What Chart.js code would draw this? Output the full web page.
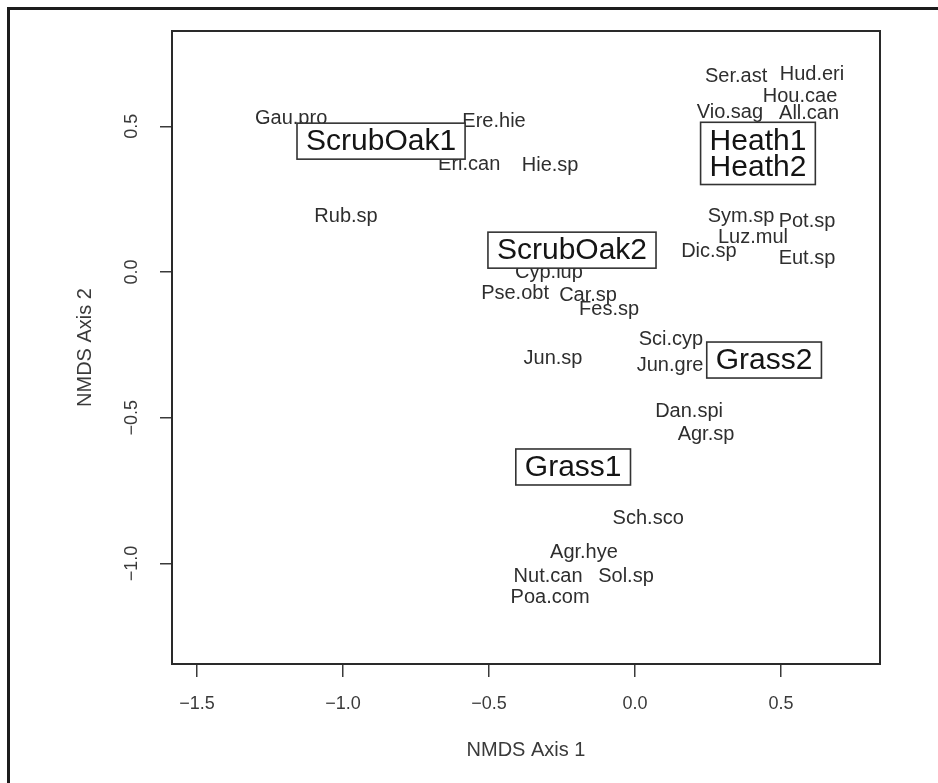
<!DOCTYPE html>
<html>
<head>
<meta charset="utf-8">
<script src="https://cdn.jsdelivr.net/npm/chart.js@4/dist/chart.umd.min.js"></script>
<style>
html,body{margin:0;padding:0;background:#fff;}
#wrap{width:938px;height:783px;position:relative;}
</style>
</head>
<body>
<div id="wrap"><canvas id="c"></canvas></div>
<script>
// Species scores (NMDS axis 1 / axis 2)
const speciesNames = ['Ser.ast','Hud.eri','Hou.cae','Vio.sag','All.can','Gau.pro','Ere.hie','Eri.can','Hie.sp','Rub.sp',
  'Sym.sp','Pot.sp','Luz.mul','Dic.sp','Eut.sp','Cyp.lup','Pse.obt','Car.sp','Fes.sp','Sci.cyp',
  'Jun.sp','Jun.gre','Dan.spi','Agr.sp','Sch.sco','Agr.hye','Nut.can','Sol.sp','Poa.com'];
const speciesX = [0.346,0.606,0.565,0.325,0.596,-1.178,-0.483,-0.568,-0.291,-0.990,
  0.363,0.589,0.404,0.253,0.589,-0.295,-0.411,-0.161,-0.089,0.123,
  -0.281,0.120,0.185,0.243,0.045,-0.175,-0.298,-0.031,-0.291];
const speciesY = [0.672,0.679,0.604,0.549,0.545,0.528,0.518,0.370,0.364,0.192,
  0.192,0.175,0.120,0.069,0.048,-0.003,-0.072,-0.082,-0.130,-0.233,
  -0.295,-0.319,-0.477,-0.556,-0.847,-0.964,-1.046,-1.046,-1.118];

// Site scores
const siteNames = ['ScrubOak1','ScrubOak2','Heath1','Heath2','Grass2','Grass1'];
const siteX = [-0.870,-0.216,0.421,0.421,0.442,-0.212];
const siteY = [0.449,0.075,0.452,0.362,-0.302,-0.669];

// Axes
const xTickValues = [-1.5,-1.0,-0.5,0.0,0.5];
const xTickLabels = ['\u22121.5','\u22121.0','\u22120.5','0.0','0.5'];
const yTickValues = [-1.0,-0.5,0.0,0.5];
const yTickLabels = ['\u22121.0','\u22120.5','0.0','0.5'];
const xRange = [-1.586, 0.839];
const yRange = [-1.345, 0.827];
const xAxisTitle = 'NMDS Axis 1';
const yAxisTitle = 'NMDS Axis 2';

const FAMILY = '"Liberation Sans", Arial, Helvetica, sans-serif';
Chart.defaults.font.family = FAMILY;

const framePlugin = {
  id: 'frame',
  beforeDraw(chart) {
    const ctx = chart.ctx;
    ctx.save();
    ctx.fillStyle = '#fff';
    ctx.fillRect(0, 0, chart.width, chart.height);
    ctx.strokeStyle = '#1c1c1c';
    ctx.lineWidth = 3;
    ctx.beginPath();
    ctx.moveTo(chart.width, 8.5);
    ctx.lineTo(8.5, 8.5);
    ctx.lineTo(8.5, chart.height);
    ctx.stroke();
    ctx.restore();
  },
  afterDraw(chart) {
    const a = chart.chartArea, ctx = chart.ctx;
    ctx.save();
    ctx.strokeStyle = '#2a2a2a';
    ctx.lineWidth = 2;
    ctx.strokeRect(a.left, a.top, a.right - a.left, a.bottom - a.top);
    ctx.restore();
  }
};

function mergeBoxes(list) {
  let boxes = list.map(b => ({...b}));
  let changed = true;
  while (changed) {
    changed = false;
    outer:
    for (let i = 0; i < boxes.length; i++) {
      for (let j = i + 1; j < boxes.length; j++) {
        const a = boxes[i], b = boxes[j];
        if (a.x < b.x + b.w && b.x < a.x + a.w && a.y < b.y + b.h && b.y < a.y + a.h) {
          const x = Math.min(a.x, b.x), y = Math.min(a.y, b.y);
          const r = Math.max(a.x + a.w, b.x + b.w), btm = Math.max(a.y + a.h, b.y + b.h);
          boxes[i] = {x, y, w: r - x, h: btm - y};
          boxes.splice(j, 1);
          changed = true;
          break outer;
        }
      }
    }
  }
  return boxes;
}

const labelPlugin = {
  id: 'labels',
  afterDatasetsDraw(chart) {
    const ctx = chart.ctx, a = chart.chartArea;
    ctx.save();
    ctx.beginPath();
    ctx.rect(a.left, a.top, a.right - a.left, a.bottom - a.top);
    ctx.clip();
    ctx.textAlign = 'center';
    ctx.textBaseline = 'middle';
    // species labels
    const m0 = chart.getDatasetMeta(0);
    ctx.font = '20px ' + FAMILY;
    ctx.fillStyle = '#2e2e2e';
    m0.data.forEach((pt, i) => ctx.fillText(speciesNames[i], pt.x, pt.y));
    // site labels with boxes
    const m1 = chart.getDatasetMeta(1);
    ctx.font = '30px ' + FAMILY;
    const boxes = mergeBoxes(m1.data.map((pt, i) => {
      const w = ctx.measureText(siteNames[i]).width + 18;
      const h = 36;
      return {x: pt.x - w / 2, y: pt.y - h / 2, w, h};
    }));
    ctx.strokeStyle = '#333';
    ctx.lineWidth = 1.6;
    boxes.forEach(b => {
      ctx.fillStyle = '#fff';
      ctx.fillRect(b.x, b.y, b.w, b.h);
      ctx.strokeRect(b.x, b.y, b.w, b.h);
    });
    ctx.fillStyle = '#141414';
    m1.data.forEach((pt, i) => ctx.fillText(siteNames[i], pt.x, pt.y + 1));
    ctx.restore();
  }
};

const tickGrid = (len) => ({
  display: true, drawOnChartArea: false, drawTicks: true,
  tickLength: len, color: '#3a3a3a', lineWidth: 1.5
});

new Chart(document.getElementById('c'), {
  type: 'scatter',
  data: {
    datasets: [
      {label: 'species', data: speciesX.map((x, i) => ({x, y: speciesY[i]})), pointRadius: 0, pointHoverRadius: 0},
      {label: 'sites', data: siteX.map((x, i) => ({x, y: siteY[i]})), pointRadius: 0, pointHoverRadius: 0}
    ]
  },
  options: {
    responsive: true,
    maintainAspectRatio: false,
    animation: false,
    events: [],
    layout: {padding: {left: 0, top: 31, right: 58, bottom: 0}},
    plugins: {legend: {display: false}, tooltip: {enabled: false}},
    scales: {
      x: {
        type: 'linear', position: 'bottom', min: xRange[0], max: xRange[1],
        afterBuildTicks: s => { s.ticks = xTickValues.map(v => ({value: v})); },
        afterFit: s => { s.height = 119; },
        grid: tickGrid(13),
        border: {display: false},
        ticks: {
          callback: v => xTickLabels[xTickValues.indexOf(v)],
          minRotation: 0, maxRotation: 0, autoSkip: false, padding: 16,
          font: {size: 18}, color: '#3a3a3a'
        },
        title: {display: true, text: xAxisTitle, font: {size: 20}, color: '#3a3a3a', padding: {top: 0, bottom: 21}}
      },
      y: {
        type: 'linear', position: 'left', min: yRange[0], max: yRange[1],
        afterBuildTicks: s => { s.ticks = yTickValues.map(v => ({value: v})); },
        afterFit: s => { s.width = 172; },
        grid: tickGrid(12),
        border: {display: false},
        ticks: {
          callback: v => yTickLabels[yTickValues.indexOf(v)],
          minRotation: 90, maxRotation: 90, autoSkip: false, crossAlign: 'center', padding: 10,
          font: {size: 18}, color: '#3a3a3a'
        },
        title: {display: true, text: yAxisTitle, font: {size: 20}, color: '#3a3a3a', padding: {top: 73, bottom: 0}}
      }
    }
  },
  plugins: [framePlugin, labelPlugin]
});
</script>
</body>
</html>
